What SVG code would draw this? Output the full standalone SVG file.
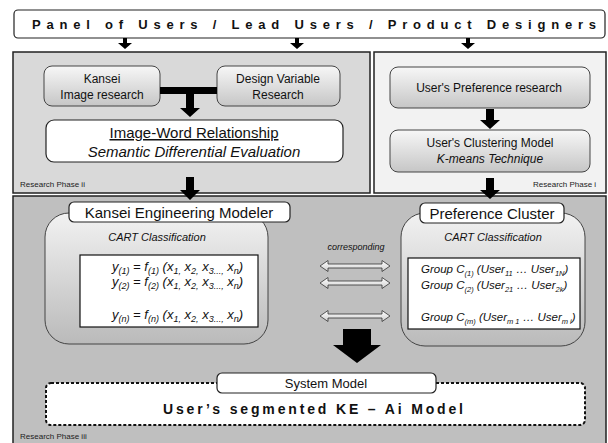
<svg xmlns="http://www.w3.org/2000/svg" width="608" height="443" viewBox="0 0 608 443">
  <defs>
    <linearGradient id="boxGrad" x1="0" y1="0" x2="0" y2="1">
      <stop offset="0" stop-color="#f7f7f7"/>
      <stop offset="1" stop-color="#c6c6c6"/>
    </linearGradient>
    <linearGradient id="bigGrad" x1="0" y1="0" x2="0" y2="1">
      <stop offset="0" stop-color="#f2f2f2"/>
      <stop offset="1" stop-color="#bababa"/>
    </linearGradient>
    <linearGradient id="dblGrad" x1="0" y1="0" x2="0" y2="1">
      <stop offset="0" stop-color="#ffffff"/>
      <stop offset="1" stop-color="#cfcfcf"/>
    </linearGradient>
  </defs>
  <style>
    text { font-family: "Liberation Sans", Arial, sans-serif; fill: #111; }
    .panel { stroke: #222; stroke-width: 1.5; }
    .box { fill: url(#boxGrad); stroke: #444; stroke-width: 1; }
    .big { fill: url(#bigGrad); stroke: #444; stroke-width: 1; }
    .white { fill: #fff; stroke: #222; stroke-width: 1.2; }
    .blk { fill: #000; }
    .dbl { fill: url(#dblGrad); stroke: #333; stroke-width: 0.8; }
    .phase { font-size: 8px; fill: #222; }
    .small { font-size: 12px; }
    .cart { font-size: 11px; font-style: italic; }
    .it { font-style: italic; }
    .eq { font-size: 13px; font-style: italic; }
    .grp { font-size: 11.5px; font-style: italic; }
  </style>

  <!-- panels -->
  <g id="panel-phase-ii">
    <rect class="panel" x="13" y="52" width="357" height="141" fill="#d9d9d9"/>
    <text class="phase" x="20" y="187">Research Phase ii</text>
  </g>
  <g id="panel-phase-i">
    <rect class="panel" x="374" y="52" width="232" height="141" fill="#f2f2f2"/>
    <text class="phase" x="533" y="187">Research Phase i</text>
  </g>
  <g id="panel-phase-iii">
    <rect class="panel" x="13" y="196" width="593" height="250" fill="#bfbfbf"/>
    <text class="phase" x="20" y="439">Research Phase iii</text>
  </g>

  <!-- top header -->
  <g id="panel-of-users">
    <rect class="white" x="14" y="10" width="591" height="28" rx="4"/>
    <text x="32" y="29" font-size="13" font-weight="bold" textLength="564" lengthAdjust="spacing">Panel of Users / Lead Users / Product Designers</text>
  </g>

  <!-- phase ii nodes -->
  <g id="kansei-image">
    <rect class="box" x="44" y="66" width="116" height="40" rx="8"/>
    <text class="small" x="102" y="83" text-anchor="middle">Kansei</text>
    <text class="small" x="102" y="99" text-anchor="middle">Image research</text>
  </g>
  <g id="design-variable">
    <rect class="box" x="217" y="66" width="123" height="40" rx="8"/>
    <text class="small" x="278" y="83" text-anchor="middle">Design Variable</text>
    <text class="small" x="278" y="99" text-anchor="middle">Research</text>
  </g>
  <g id="image-word">
    <rect class="white" x="46" y="120" width="297" height="42" rx="8"/>
    <text x="194" y="138" font-size="15" text-anchor="middle" text-decoration="underline">Image-Word Relationship</text>
    <text class="it" x="194" y="157" font-size="15" text-anchor="middle">Semantic Differential Evaluation</text>
  </g>

  <!-- phase i nodes -->
  <g id="preference-research">
    <rect class="box" x="390" y="67" width="200" height="41" rx="8"/>
    <text class="small" x="489" y="92" text-anchor="middle">User's Preference  research</text>
  </g>
  <g id="clustering-model">
    <rect class="box" x="390" y="130" width="200" height="42" rx="8"/>
    <text class="small" x="490" y="147" text-anchor="middle">User's Clustering Model</text>
    <text class="small it" x="490" y="163" text-anchor="middle">K-means Technique</text>
  </g>

  <!-- phase iii nodes -->
  <g id="ke-modeler">
    <rect class="big" x="45" y="213" width="223" height="131" rx="24"/>
    <rect class="white" x="69" y="202" width="221" height="20" rx="5"/>
    <text x="179" y="218" font-size="15" text-anchor="middle">Kansei Engineering Modeler</text>
    <text class="cart" x="157" y="241" text-anchor="middle">CART Classification</text>
    <rect x="80" y="255" width="178" height="72" fill="#fff" stroke="#111" stroke-width="1.2"/>
    <text class="eq" x="112" y="271">y<tspan dy="3" font-size="9">(1)</tspan><tspan dy="-3"> = f</tspan><tspan dy="3" font-size="9">(1)</tspan><tspan dy="-3"> (x</tspan><tspan dy="3" font-size="9">1,</tspan><tspan dy="-3"> x</tspan><tspan dy="3" font-size="9">2,</tspan><tspan dy="-3"> x</tspan><tspan dy="3" font-size="9">3...,</tspan><tspan dy="-3"> x</tspan><tspan dy="3" font-size="9">n</tspan><tspan dy="-3">)</tspan></text>
    <text class="eq" x="112" y="286">y<tspan dy="3" font-size="9">(2)</tspan><tspan dy="-3"> = f</tspan><tspan dy="3" font-size="9">(2)</tspan><tspan dy="-3"> (x</tspan><tspan dy="3" font-size="9">1,</tspan><tspan dy="-3"> x</tspan><tspan dy="3" font-size="9">2,</tspan><tspan dy="-3"> x</tspan><tspan dy="3" font-size="9">3...,</tspan><tspan dy="-3"> x</tspan><tspan dy="3" font-size="9">n</tspan><tspan dy="-3">)</tspan></text>
    <text class="eq" x="112" y="319">y<tspan dy="3" font-size="9">(n)</tspan><tspan dy="-3"> = f</tspan><tspan dy="3" font-size="9">(n)</tspan><tspan dy="-3"> (x</tspan><tspan dy="3" font-size="9">1,</tspan><tspan dy="-3"> x</tspan><tspan dy="3" font-size="9">2,</tspan><tspan dy="-3"> x</tspan><tspan dy="3" font-size="9">3...,</tspan><tspan dy="-3"> x</tspan><tspan dy="3" font-size="9">n</tspan><tspan dy="-3">)</tspan></text>
  </g>
  <g id="preference-cluster">
    <rect class="big" x="401" y="213" width="184" height="133" rx="24"/>
    <rect class="white" x="420" y="203" width="144" height="20" rx="5"/>
    <text x="492" y="219" font-size="15" text-anchor="middle">Preference Cluster</text>
    <text class="cart" x="493" y="241" text-anchor="middle">CART Classification</text>
    <rect x="408" y="258" width="172" height="71" fill="#fff" stroke="#111" stroke-width="1.2"/>
    <text class="grp" x="421" y="273">Group C<tspan dy="3" font-size="7.5">(1)</tspan><tspan dy="-3"> (User</tspan><tspan dy="3" font-size="7.5">11</tspan><tspan dy="-3"> … User</tspan><tspan dy="3" font-size="7.5">1N</tspan><tspan dy="-3">)</tspan></text>
    <text class="grp" x="421" y="289">Group C<tspan dy="3" font-size="7.5">(2)</tspan><tspan dy="-3"> (User</tspan><tspan dy="3" font-size="7.5">21</tspan><tspan dy="-3"> … User</tspan><tspan dy="3" font-size="7.5">2k</tspan><tspan dy="-3">)</tspan></text>
    <text class="grp" x="421" y="321">Group C<tspan dy="3" font-size="7.5">(m)</tspan><tspan dy="-3"> (User</tspan><tspan dy="3" font-size="7.5">m 1</tspan><tspan dy="-3"> … User</tspan><tspan dy="3" font-size="7.5">m i</tspan><tspan dy="-3">)</tspan></text>
  </g>
  <g id="system-model">
    <rect x="46" y="383" width="539" height="42" rx="5" fill="#fff" stroke="#111" stroke-width="2" stroke-dasharray="3 2"/>
    <rect class="white" x="217" y="373" width="219" height="20" rx="5"/>
    <text x="326" y="388" font-size="13" text-anchor="middle">System  Model</text>
    <text x="163" y="414" font-size="14" font-weight="bold" textLength="300" lengthAdjust="spacing">User’s segmented KE – Ai Model</text>
  </g>

  <!-- connectors -->
  <g id="connectors">
    <!-- header to panels -->
    <path class="blk" d="M123 38h4v5h5l-7 6l-7-6h5z"/>
    <path class="blk" d="M295 38h4v5h5l-7 6l-7-6h5z"/>
    <path class="blk" d="M466 38h4v5h5l-7 6l-7-6h5z"/>
    <!-- kansei + design variable join -->
    <rect class="blk" x="160" y="87" width="57" height="7"/>
    <path class="blk" d="M186 94h8v14h6l-10 9l-10-9h6z"/>
    <!-- preference research to clustering -->
    <path class="blk" d="M486 109h8v11h6l-10 9l-10-9h6z"/>
    <!-- phase ii to phase iii -->
    <path class="blk" d="M186 177h8v13h6l-10 10l-10-10h6z"/>
    <!-- phase i to phase iii -->
    <path class="blk" d="M486 178h8v12h6l-10 9l-10-9h6z"/>
    <!-- correspondence arrows -->
    <text class="it" x="356" y="250" font-size="9" text-anchor="middle" fill="#333">corresponding</text>
    <path class="dbl" d="M320 266l8-5.5v3.5h54v-3.5l8 5.5l-8 5.5v-3.5h-54v3.5z"/>
    <path class="dbl" d="M320 283l8-5.5v3.5h54v-3.5l8 5.5l-8 5.5v-3.5h-54v3.5z"/>
    <path class="dbl" d="M320 316l8-5.5v3.5h54v-3.5l8 5.5l-8 5.5v-3.5h-54v3.5z"/>
    <!-- models to system model -->
    <path class="blk" d="M343 329h28v16h10l-24 18l-24-18h10z"/>
  </g>
</svg>
